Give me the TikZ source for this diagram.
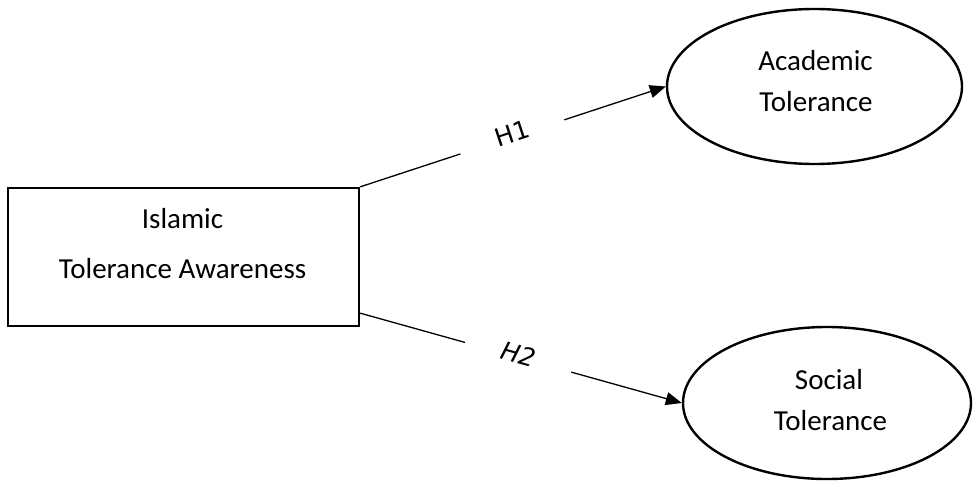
\documentclass[tikz,border=0pt]{standalone}
\usepackage{fontspec}
\setmainfont{Carlito}
\newfontfamily\hypfont{DejaVu Sans}
\usetikzlibrary{shapes.geometric,arrows.meta}
\begin{document}
\begin{tikzpicture}[x=1pt,y=-1pt,
  box/.style={draw,line width=2.3pt,minimum width=351pt,minimum height=138pt,inner sep=0pt},
  oval/.style={draw,ellipse,line width=2.4pt,minimum width=295pt,minimum height=155pt,inner sep=0pt},
  txt/.style={anchor=base,inner sep=0pt,font=\fontsize{29}{35}\selectfont},
  wire/.style={line width=1.3pt},
  link/.style={wire,-{Triangle[length=16pt,width=13pt]}},
  hyp/.style={sloped,inner sep=0pt,yshift=3.5pt,font=\hypfont\fontsize{25}{30}\selectfont}]
\useasboundingbox (0,0) rectangle (976,481);

% constructs
\node[box] (src) at (183.5,257) {};
\node[oval] (acad) at (814.5,86.5) {};
\node[oval,minimum width=288pt,minimum height=152pt] (soc) at (827,403) {};

% labels inside the constructs
\node[txt] (srcA) at (182.5,228) {Islamic};
\node[txt] (srcB) at (182.5,278) {Tolerance Awareness};
\node[txt] (acadA) at (815.5,71) {Academic};
\node[txt] (acadB) at (816,112) {Tolerance};
\node[txt] (socA) at (829,389) {Social};
\node[txt] (socB) at (830.5,430) {Tolerance};

% hypothesised paths, broken around their labels
\path (src.north east) -- coordinate[pos=0.328] (g1a) coordinate[pos=0.668] (g1b)
      node[hyp,pos=0.5] (h1) {H1} (acad.west);
\draw[wire] (src.north east) -- (g1a);
\draw[link] (g1b) -- (acad.west);

\coordinate (s2) at ([yshift=14pt]src.south east);
\path (s2) -- coordinate[pos=0.326] (g2a) coordinate[pos=0.656] (g2b)
      node[hyp,pos=0.49] (h2) {\itshape H2} (soc.west);
\draw[wire] (s2) -- (g2a);
\draw[link] (g2b) -- (soc.west);
\end{tikzpicture}
\end{document}
